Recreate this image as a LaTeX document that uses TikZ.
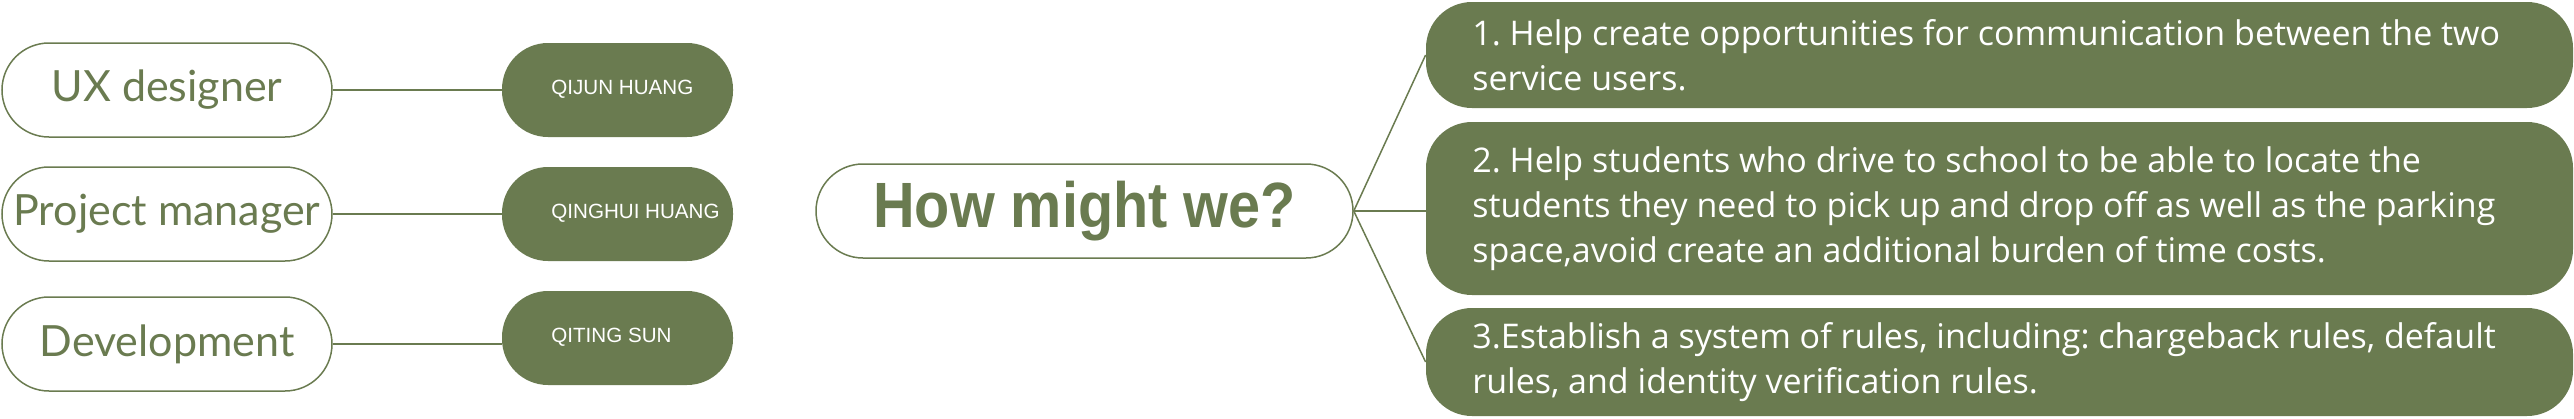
\documentclass[tikz,border=0pt]{standalone}
\usepackage{fontspec}
\setmainfont{Lato}
\newfontfamily\namefont{Liberation Sans}
\newfontfamily\howfont{Liberation Sans}
\newfontfamily\ideafont{Open Sans}
\definecolor{olive}{RGB}{106,123,80}
\begin{document}
\frenchspacing
\begin{tikzpicture}[x=0.5pt,y=-0.5pt,
  rolebox/.style={draw=olive,line width=0.75pt,fill=white,rounded corners=23.5pt,minimum width=165pt,minimum height=47pt,inner sep=0pt,text=olive,font=\fontsize{21.5}{26}\selectfont},
  pillbox/.style={fill=olive,rounded corners=23pt,minimum width=115.5pt,minimum height=47pt,inner sep=0pt},
  nametext/.style={anchor=west,text=white,inner sep=0pt,font=\namefont\fontsize{10.3}{13}\selectfont},
  ideabox/.style={fill=olive,rounded corners=23pt,minimum width=573.5pt,inner sep=0pt},
  ideatext/.style={anchor=west,text=white,inner sep=0pt,align=left,font=\ideafont\fontsize{17}{22.5}\selectfont},
  conn/.style={draw=olive,line width=0.75pt}]
\useasboundingbox (0,0) rectangle (2574,418);
% roles
\node[rolebox] (r1) at (167,90) {UX designer};
\node[rolebox] (r2) at (167,214) {Project manager};
\node[rolebox] (r3) at (167,344) {Development};
% pills
\node[pillbox] (p1) at (617.5,90) {};
\node[pillbox] (p2) at (617.5,214) {};
\node[pillbox] (p3) at (617.5,338) {};
\node[nametext] (n1) at (551,89) {QIJUN HUANG};
\node[nametext] (n2) at (551,213) {QINGHUI HUANG};
\node[nametext] (n3) at (551,337) {QITING SUN};
\draw[conn] (r1.east) -- (r1.east -| p1.west);
\draw[conn] (r2.east) -- (r2.east -| p2.west);
\draw[conn] (r3.east) -- (r3.east -| p3.west);
% center
\node[rolebox,minimum width=268.5pt,font=\howfont\bfseries\fontsize{32}{38}\selectfont] (how) at (1084.5,211) {\scalebox{0.9}[1]{How might we?}};
% ideas
\node[ideabox,minimum height=53pt] (i1) at (1999.5,55) {};
\node[ideabox,minimum height=86.5pt] (i2) at (1999.5,208.5) {};
\node[ideabox,minimum height=54pt] (i3) at (1999.5,362) {};
\node[ideatext] (t1) at (1472,55) {1. Help create opportunities for communication between the two\\service users.};
\node[ideatext] (t2) at (1472,208.5) {2. Help students who drive to school to be able to locate the\\students they need to pick up and drop off as well as the parking\\space,avoid create an additional burden of time costs.};
\node[ideatext] (t3) at (1472,362) {3.Establish a system of rules, including: chargeback rules, default\\rules, and identity verification rules.};
\draw[conn] (how.east) -- (i1.west);
\draw[conn] (how.east) -- (how.east -| i2.west);
\draw[conn] (how.east) -- (i3.west);
\end{tikzpicture}
\end{document}
